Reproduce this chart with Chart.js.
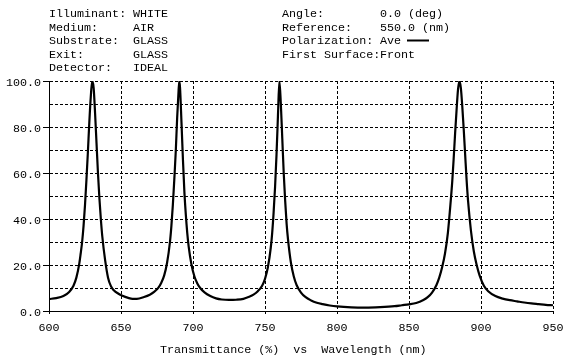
<!DOCTYPE html>
<html>
<head>
<meta charset="utf-8">
<script src="https://cdn.jsdelivr.net/npm/chart.js@4"></script>
<style>
  html, body { margin: 0; padding: 0; background: #fff; }
</style>
</head>
<body>
<canvas id="chart" width="585" height="361"></canvas>
<script>
// wavelength (nm) and transmittance (%)
const wavelength = [
  600, 605, 610, 614, 617, 619, 621, 622, 623, 624, 625, 626, 627, 628, 629, 630,
  631, 632, 633, 634, 635, 636, 637, 639, 641, 643, 645, 648, 651, 655, 658,
  661, 666, 670, 673, 676, 678, 680, 682, 684, 685, 686, 687, 688, 689, 690, 690.5,
  691, 692, 693, 694, 695, 696, 697, 699, 701, 703, 705, 708, 712, 716, 720, 725, 730,
  735, 739, 742, 745, 748, 750, 752, 754, 755, 756, 757, 758, 759, 760,
  761, 762, 763, 764, 765, 766, 768, 770, 772, 775, 778, 782, 786, 790, 795,
  800, 810, 820, 830, 840, 845, 850, 855, 860, 863, 866, 869, 871, 873, 875, 877, 879,
  880, 881, 882, 883, 884, 885, 886, 887, 888, 889, 890, 891, 893, 895, 897, 899,
  902, 905, 910, 915, 920, 925, 930, 935, 940, 945, 950
];
const transmittance = [
  5.2, 5.6, 6.5, 8.3, 11, 14.5, 20.5, 25, 30, 37, 46, 57, 69, 82, 93, 100,
  97, 86, 73, 60, 49, 40, 32.5, 22, 14.5, 10.8, 9, 7.6, 6.6, 5.7, 5.3,
  5.3, 6.1, 7.1, 8.3, 10.2, 12.3, 15.5, 21, 30, 37, 46, 57, 69, 84, 96, 100,
  97, 82, 66, 52, 42, 34, 28, 20, 15, 12, 10, 8.1, 6.5, 5.5, 5, 4.8, 4.9,
  5.3, 6.2, 7.1, 8.6, 11, 14, 19, 27.5, 34, 43, 54, 68, 85, 100,
  90, 75, 60, 48, 38, 31, 21, 15, 11.2, 8, 6.1, 4.6, 3.6, 3, 2.4,
  2, 1.6, 1.5, 1.7, 2.1, 2.5, 2.9, 3.5, 4.8, 6, 8, 11.2, 14.5, 19, 25, 34, 48,
  56, 66, 77, 87, 96, 100, 97, 89, 79, 68, 57, 48, 35, 26, 20, 15.5,
  11, 8.6, 6.5, 5.4, 4.7, 4.2, 3.7, 3.3, 3, 2.7, 2.5
];

// header block
const leftLabels  = ['Illuminant:', 'Medium:', 'Substrate:', 'Exit:', 'Detector:'];
const leftValues  = ['WHITE', 'AIR', 'GLASS', 'GLASS', 'IDEAL'];
const rightLabels = ['Angle:', 'Reference:', 'Polarization:', 'First Surface:'];
const rightValues = ['0.0 (deg)', '550.0 (nm)', 'Ave', 'Front'];
const xTitle = 'Transmittance (%)  vs  Wavelength (nm)';

const FONT = "11.7px 'Liberation Mono', 'DejaVu Sans Mono', monospace";

// draws the text block on top and the axis title underneath
const textPlugin = {
  id: 'textBlock',
  afterDraw(chart) {
    const ctx = chart.ctx;
    ctx.save();
    ctx.font = FONT;
    ctx.fillStyle = '#000';
    ctx.textAlign = 'left';
    ctx.textBaseline = 'alphabetic';
    for (let i = 0; i < leftLabels.length; i++) {
      const y = 17 + i * 13.5;
      ctx.fillText(leftLabels[i], 49, y);
      ctx.fillText(leftValues[i], 133, y);
    }
    for (let i = 0; i < rightLabels.length; i++) {
      const y = 17 + i * 13.5;
      ctx.fillText(rightLabels[i], 282, y);
      ctx.fillText(rightValues[i], 380, y);
    }
    // little line sample next to "Ave"
    ctx.strokeStyle = '#000';
    ctx.lineWidth = 2;
    ctx.beginPath();
    ctx.moveTo(407, 40.5);
    ctx.lineTo(429, 40.5);
    ctx.stroke();

    ctx.fillText(xTitle, 160, 353);
    ctx.restore();
  }
};

const chart = new Chart(document.getElementById('chart'), {
  type: 'line',
  data: {
    datasets: [{
      data: wavelength.map((w, i) => ({ x: w, y: transmittance[i] })),
      borderColor: '#000',
      borderWidth: 2.2,
      pointRadius: 0,
      cubicInterpolationMode: 'monotone',
      fill: false
    }]
  },
  options: {
    responsive: false,
    animation: false,
    layout: { padding: { top: 81, right: 32, left: 0, bottom: 0 } },
    plugins: { legend: { display: false }, tooltip: { enabled: false } },
    scales: {
      x: {
        type: 'linear',
        min: 600,
        max: 950,
        afterFit: s => { s.height = 50; },
        ticks: {
          stepSize: 50,
          color: '#000',
          font: { family: "'Liberation Mono'", size: 11.7 },
          padding: 7,
          maxRotation: 0,
          callback: v => v
        },
        grid: { color: '#000', lineWidth: 1, tickLength: 3 },
        border: { display: true, color: '#000', width: 1, dash: [3, 2] }
      },
      y: {
        min: 0,
        max: 100,
        afterFit: s => { s.width = 49; },
        ticks: {
          stepSize: 10,
          color: '#000',
          font: { family: "'Liberation Mono'", size: 11.7 },
          padding: 2,
          labelOffset: 2,
          callback: v => (v % 20 === 0 ? v.toFixed(1) : '')
        },
        grid: {
          color: '#000',
          lineWidth: 1,
          tickLength: 6,
          tickColor: c => (c.tick && c.tick.value % 20 === 0 ? '#000' : 'rgba(0,0,0,0)')
        },
        border: { display: true, color: '#000', width: 1, dash: [3, 2] }
      }
    }
  },
  plugins: [textPlugin]
});
</script>
</body>
</html>
